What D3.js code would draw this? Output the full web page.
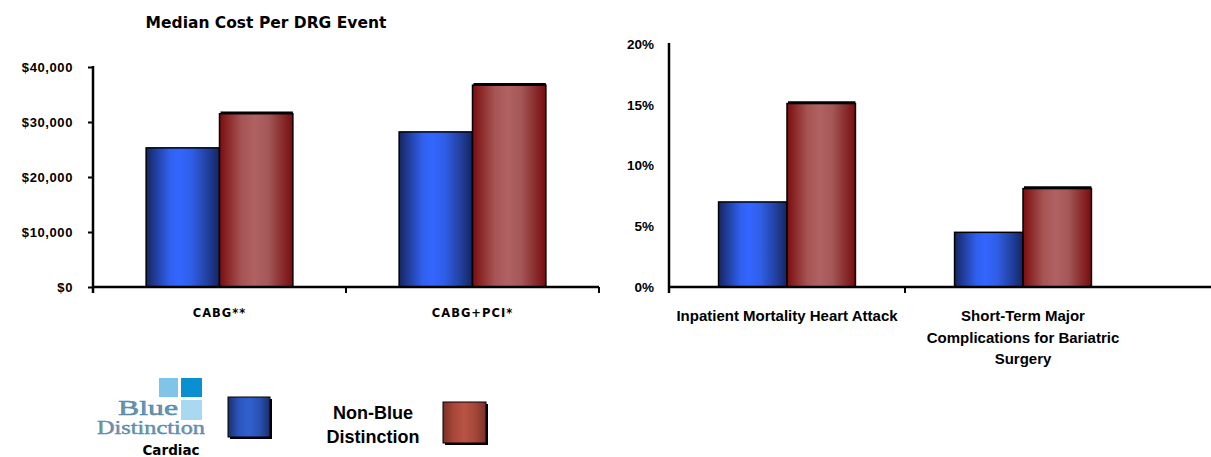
<!DOCTYPE html>
<html>
<head>
<meta charset="utf-8">
<script src="https://cdn.jsdelivr.net/npm/d3@7"></script>
<style>
  html, body { margin: 0; padding: 0; background: #fff; }
  svg { display: block; }
</style>
</head>
<body>
<svg id="chart" width="1211" height="457"></svg>
<script>
// ---- data ----
const series = ["Blue Distinction", "Non-Blue Distinction"];

const costCategories = ["CABG**", "CABG+PCI*"];
const costBlue = [25300, 28200];
const costNonBlue = [31500, 36700];
const costTicks = [0, 10000, 20000, 30000, 40000];

const qualityCategories = ["Inpatient Mortality  Heart Attack", "Short-Term Major Complications for Bariatric Surgery"];
const qualityLabelLines = [["Inpatient Mortality  Heart Attack"], ["Short-Term Major", "Complications for Bariatric", "Surgery"]];
const qualityBlue = [7.0, 4.5];
const qualityNonBlue = [15.1, 8.1];
const qualityTicks = [0, 5, 10, 15, 20];

const svg = d3.select("#chart");
const defs = svg.append("defs");

// cylinder-like horizontal shading for the bars
function shade(id, stops) {
  const g = defs.append("linearGradient").attr("id", id)
    .attr("x1", "0%").attr("x2", "100%").attr("y1", "0%").attr("y2", "0%");
  stops.forEach(([o, c]) => g.append("stop").attr("offset", o).attr("stop-color", c));
}
shade("gBlue", [["0%", "#15255f"], ["12%", "#1f3c98"], ["32%", "#3060ee"], ["45%", "#3366ff"], ["62%", "#2f5ee6"], ["84%", "#213f9e"], ["100%", "#15255f"]]);
shade("gRed", [["0%", "#7a0c0e"], ["12%", "#8c2a2a"], ["30%", "#a65454"], ["48%", "#b06262"], ["66%", "#a55858"], ["84%", "#8a3030"], ["100%", "#7a0c0e"]]);
shade("gBlueKey", [["0%", "#1a2f6c"], ["25%", "#2b55bb"], ["50%", "#3060d0"], ["75%", "#2a52b4"], ["100%", "#1a2f6c"]]);
shade("gRedKey", [["0%", "#7c3026"], ["25%", "#a8483a"], ["50%", "#b85444"], ["75%", "#a4473a"], ["100%", "#7c3026"]]);

const fills = ["url(#gBlue)", "url(#gRed)"];

function barChart(opts) {
  const { cats, values, ticks, yMax, x0, x1, axisEnd, yTop, yBase, fmt, tickLen } = opts;
  const g = svg.append("g");

  const x = d3.scaleBand().domain(cats).range([x0, x1]).paddingInner(0.42).paddingOuter(0.21);
  const xs = d3.scaleBand().domain(series).range([0, x.bandwidth()]);
  const y = d3.scaleLinear().domain([0, yMax]).range([yBase, yTop]);

  // bars
  cats.forEach((c, i) => {
    series.forEach((s, j) => {
      const v = values[j][i];
      const bx = x(c) + xs(s);
      g.append("rect")
        .attr("x", bx).attr("y", y(v))
        .attr("width", xs.bandwidth()).attr("height", y(0) - y(v))
        .attr("fill", fills[j]).attr("stroke", "#000").attr("stroke-width", 1.5);
      if (j === 1) {
        g.append("line")
          .attr("x1", bx + 1).attr("x2", bx + xs.bandwidth())
          .attr("y1", y(v) - 1).attr("y2", y(v) - 1)
          .attr("stroke", "#000").attr("stroke-width", 2.5);
      }
    });
  });

  // value axis
  const yAxis = d3.axisLeft(y).tickValues(ticks).tickFormat(fmt).tickSize(tickLen).tickSizeOuter(0);
  const ya = g.append("g").attr("transform", `translate(${x0},0)`).call(yAxis);
  ya.select(".domain").remove();
  ya.selectAll(".tick line").attr("stroke", "#000").attr("stroke-width", 2);
  ya.selectAll(".tick text")
    .attr("x", -tickLen - opts.labelGap)
    .style("font-family", "'Liberation Sans', Arial, sans-serif")
    .style("font-size", opts.tickFont).style("font-weight", "bold")
    .style("letter-spacing", opts.tickSpacing).attr("fill", "#000");
  g.append("line").attr("x1", x0).attr("x2", x0).attr("y1", yTop - 1).attr("y2", yBase + 6)
    .attr("stroke", "#000").attr("stroke-width", 2.5);

  // category axis with dividers between groups
  g.append("line").attr("x1", x0).attr("x2", axisEnd).attr("y1", yBase).attr("y2", yBase)
    .attr("stroke", "#000").attr("stroke-width", 2.5);
  const step = x.step();
  d3.range(1, opts.dividers + 1).forEach(k => {
    const bx = x0 + k * step;
    g.append("line").attr("x1", bx).attr("x2", bx).attr("y1", yBase).attr("y2", yBase + 6)
      .attr("stroke", "#000").attr("stroke-width", 2);
  });
  return { g, x };
}

// ---- left: median cost ----
const left = barChart({
  cats: costCategories, values: [costBlue, costNonBlue], ticks: costTicks, yMax: 40000,
  x0: 93, x1: 599, axisEnd: 599, yTop: 67, yBase: 287, dividers: 2,
  fmt: d => "$" + d3.format(",")(d), tickLen: 5, labelGap: 15, tickFont: "13px", tickSpacing: "0.6px"
});
left.g.append("text")
  .attr("x", 266).attr("y", 28).attr("text-anchor", "middle")
  .style("font-family", "'DejaVu Sans', Verdana, sans-serif").style("font-weight", "bold").style("font-size", "15.5px")
  .text("Median Cost Per DRG Event");
costCategories.forEach(c => {
  left.g.append("text")
    .attr("x", left.x(c) + left.x.bandwidth() / 2).attr("y", 317).attr("text-anchor", "middle")
    .style("font-family", "'DejaVu Sans', Verdana, sans-serif").style("font-weight", "bold").style("font-size", "11.5px")
    .style("letter-spacing", "1px")
    .text(c);
});

// ---- right: quality outcomes ----
const right = barChart({
  cats: qualityCategories, values: [qualityBlue, qualityNonBlue], ticks: qualityTicks, yMax: 20,
  x0: 669, x1: 1141, axisEnd: 1211, yTop: 44, yBase: 287, dividers: 1,
  fmt: d => d + "%", tickLen: 0, labelGap: 15, tickFont: "13.5px", tickSpacing: "0px"
});
qualityCategories.forEach((c, i) => {
  const t = right.g.append("text")
    .attr("text-anchor", "middle")
    .style("font-family", "'Liberation Sans', Arial, sans-serif").style("font-size", "15px")
    .style("font-weight", "bold");
  qualityLabelLines[i].forEach((ln, k) => {
    t.append("tspan").attr("x", right.x(c) + right.x.bandwidth() / 2).attr("y", 321 + k * 21.5).text(ln);
  });
});

// ---- legend ----
const lg = svg.append("g");
// logo tiles
lg.append("rect").attr("x", 159).attr("y", 378).attr("width", 19).attr("height", 19).attr("fill", "#80c5e8");
lg.append("rect").attr("x", 181).attr("y", 378).attr("width", 21).attr("height", 19).attr("fill", "#0a8fd3");
lg.append("rect").attr("x", 181).attr("y", 400).attr("width", 21).attr("height", 20).attr("fill", "#a8d9f1");
lg.append("text").attr("x", 148).attr("y", 415).attr("text-anchor", "middle")
  .style("font-family", "'Liberation Serif', 'Times New Roman', serif").style("font-size", "21px")
  .attr("textLength", 60).attr("lengthAdjust", "spacingAndGlyphs")
  .attr("fill", "#8a8a8a").attr("stroke", "#2d8ec9").attr("stroke-width", 0.5).text("Blue");
lg.append("text").attr("x", 151).attr("y", 434).attr("text-anchor", "middle")
  .style("font-family", "'Liberation Serif', 'Times New Roman', serif").style("font-size", "18px")
  .attr("textLength", 108).attr("lengthAdjust", "spacingAndGlyphs")
  .attr("fill", "#8a8a8a").attr("stroke", "#2d8ec9").attr("stroke-width", 0.4).text("Distinction");
lg.append("text").attr("x", 171).attr("y", 455).attr("text-anchor", "middle")
  .style("font-family", "'DejaVu Sans', Verdana, sans-serif").style("font-size", "13.5px").style("font-weight", "bold")
  .text("Cardiac");

// series keys
function key(x, y, w, h, fill) {
  lg.append("rect").attr("x", x + 2).attr("y", y + 2).attr("width", w).attr("height", h).attr("fill", "#000");
  lg.append("rect").attr("x", x).attr("y", y).attr("width", w).attr("height", h)
    .attr("fill", fill).attr("stroke", "#000").attr("stroke-width", 1);
}
key(228, 397, 42, 40, "url(#gBlueKey)");
key(443, 402, 43, 41, "url(#gRedKey)");
const nb = lg.append("text").attr("text-anchor", "middle")
  .style("font-family", "'Liberation Sans', Arial, sans-serif").style("font-size", "18px").style("font-weight", "bold");
nb.append("tspan").attr("x", 373).attr("y", 419).text("Non-Blue");
nb.append("tspan").attr("x", 373).attr("y", 443).text("Distinction");
</script>
</body>
</html>
